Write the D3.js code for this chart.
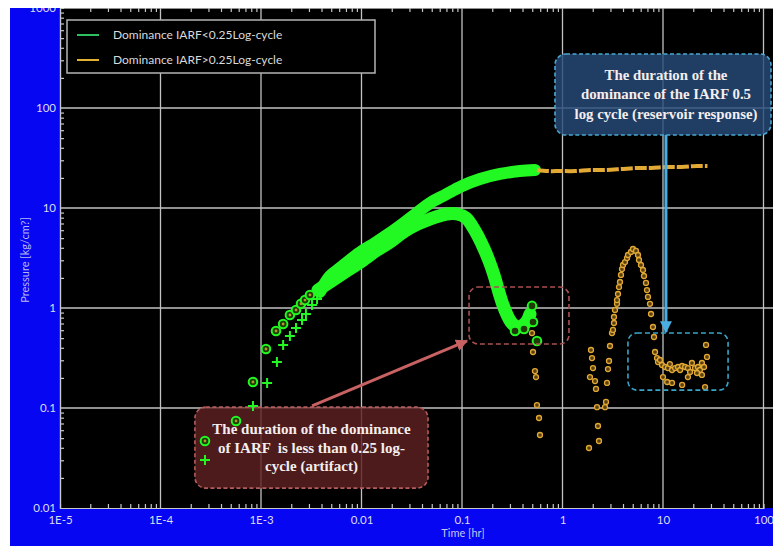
<!DOCTYPE html>
<html>
<head>
<meta charset="utf-8">
<script src="https://cdn.jsdelivr.net/npm/d3@7"></script>
<style>
  html, body { margin: 0; padding: 0; background: #fff; }
  svg { display: block; }
</style>
</head>
<body>
<svg id="chart" width="773" height="546"></svg>
<script>
// decade ticks
var xTicks = [1e-5, 1e-4, 1e-3, 0.01, 0.1, 1, 10, 100];
var xTickLabels = ["1E-5", "1E-4", "1E-3", "0.01", "0.1", "1", "10", "100"];
var yTicks = [0.01, 0.1, 1, 10, 100, 1000];
var yTickLabels = ["0.01", "0.1", "1", "10", "100", "1000"];

var seriesNames = ["Dominance IARF<0.25Log-cycle", "Dominance IARF>0.25Log-cycle"];

// [time hr, pressure kg/cm2]
// green pressure (+ markers), sparse early part
var pressEarly = [[2.77e-4,0.0302],[8.32e-4,0.105],[1.15e-3,0.178],[1.44e-3,0.288],[1.66e-3,0.427],
  [1.94e-3,0.525],[2.23e-3,0.631],[2.56e-3,0.759],[2.80e-3,0.871],[3.22e-3,1.07],[3.61e-3,1.23]];
// green pressure, dense part (markers overlap into a band)
var pressBand = [[3.86e-3,1.445],[4.86e-3,2.09],[6.11e-3,2.51],[7.68e-3,3.02],[1.01e-2,3.72],[1.36e-2,4.47],
  [1.92e-2,5.62],[2.71e-2,7.24],[3.65e-2,9.12],[4.80e-2,11.2],[6.77e-2,13.5],[0.100,16.6],[0.151,19.5],
  [0.239,21.9],[0.378,23.4],[0.532,24.0]];
// green derivative (circle markers), sparse early part
var derivEarly = [[2.77e-4,0.0468],[5.64e-4,0.0741],[8.32e-4,0.182],[1.12e-3,0.389],[1.41e-3,0.589],
  [1.66e-3,0.692],[1.94e-3,0.851],[2.23e-3,0.955],[2.50e-3,1.10],[2.74e-3,1.20],[3.07e-3,1.35]];
// green derivative, dense part
var derivBand = [[3.69e-3,1.51],[4.86e-3,1.82],[6.85e-3,2.29],[1.01e-2,2.95],[1.39e-2,3.72],[1.92e-2,4.57],
  [2.71e-2,5.89],[3.65e-2,6.92],[4.80e-2,7.76],[7.09e-2,8.71],[8.92e-2,8.71],[0.110,7.94],[0.126,6.61],
  [0.144,5.25],[0.166,3.89],[0.186,2.95],[0.208,2.14],[0.228,1.55],[0.256,1.07],[0.281,0.851],
  [0.307,0.724],[0.337,0.661],[0.369,0.646],[0.405,0.676],[0.443,0.741],[0.475,0.871]];
// green derivative, last separate circles
var derivLast = [[0.497,1.05],[0.509,0.724],[0.337,0.589],[0.414,0.617],[0.557,0.468]];

// orange pressure (after IARF)
var orangePress = [[0.557,24.0],[0.72,23.4],[0.95,23.4],[1.34,23.4],[1.90,24.0],[2.69,24.0],[3.81,24.5],
  [5.39,25.1],[7.63,25.1],[10.8,25.7],[15.3,25.7],[21.6,26.3],[27.7,26.3]];
// orange derivative
var orangeDeriv = [[0.497,0.562],[0.509,0.363],[0.532,0.234],[0.545,0.204],[0.557,0.107],[0.584,0.0794],
  [0.597,0.0537],
  [1.835,0.0398],[2.307,0.0468],[2.255,0.0661],[2.204,0.102],[2.648,0.102],[2.709,0.115],[2.154,0.155],
  [2.106,0.186],[1.877,0.204],[2.011,0.251],[1.966,0.316],[1.921,0.380],[2.772,0.178],[2.836,0.245],
  [2.902,0.295],[2.969,0.417],[3.108,0.562],[3.180,0.603],[3.253,0.708],[3.253,0.813],[3.329,0.955],
  [3.485,1.10],[3.485,1.20],[3.566,1.38],[3.649,1.62],[3.733,1.82],[3.820,2.14],[3.908,2.45],[4.000,2.69],
  [4.187,2.88],[4.383,3.16],[4.485,3.39],[4.804,3.63],[5.029,3.89],[5.387,3.72],[5.639,3.39],[5.770,3.02],
  [6.040,2.69],[6.323,2.40],[6.469,2.09],[6.772,1.78],[6.929,1.51],[7.089,1.29],[7.42,1.10],[7.60,0.871],
  [7.95,0.646],[8.14,0.513],[8.33,0.363],[8.72,0.316],[8.92,0.288],[9.33,0.302],[9.77,0.269],[10.5,0.257],
  [11.2,0.251],[11.7,0.275],[12.3,0.240],[13.2,0.251],[14.1,0.257],[14.8,0.240],[15.5,0.263],[16.6,0.257],
  [17.7,0.251],[18.6,0.229],[19.4,0.282],[20.8,0.251],[22.3,0.257],[23.3,0.240],[24.4,0.282],[25.6,0.257],
  [27.4,0.324],[26.8,0.427],[26.2,0.162],[10.0,0.204],[11.0,0.182],[12.3,0.178],[15.5,0.170],[17.7,0.204],
  [21.8,0.224],[24.4,0.214]];

var GREEN = "#22f822", ORANGE = "#e2a935";

var svg = d3.select("#chart");
var W = 773, H = 546;
var x = d3.scaleLog().domain([1e-5, 100]).range([60, 763.5]);
var y = d3.scaleLog().domain([0.01, 1000]).range([508, 8]);

// background
svg.append("rect").attr("x", 10).attr("y", 0).attr("width", W - 10).attr("height", H).attr("fill", "#0606f3");
svg.append("rect").attr("x", 60).attr("y", 8).attr("width", W - 60).attr("height", 500).attr("fill", "#000");

// minor tick values (2..9 per decade)
var minorX = [], minorY = [];
xTicks.slice(0, -1).forEach(function(d) { for (var k = 2; k < 10; k++) minorX.push(d * k); });
yTicks.slice(0, -1).forEach(function(d) { for (var k = 2; k < 10; k++) minorY.push(d * k); });

// gridlines
var grid = svg.append("g").attr("stroke", "#c2c2c2").attr("stroke-width", 1.3);
grid.selectAll(".gx").data(xTicks.slice(1)).enter().append("line")
  .attr("x1", function(d) { return x(d); }).attr("x2", function(d) { return x(d); })
  .attr("y1", 8).attr("y2", 508);
grid.selectAll(".gy").data(yTicks.slice(1)).enter().append("line")
  .attr("y1", function(d) { return y(d); }).attr("y2", function(d) { return y(d); })
  .attr("x1", 60).attr("x2", W);

// minor ticks (inside)
function styleAxis(g) {
  g.selectAll("path, line").attr("stroke", "#c8c8c8").attr("stroke-width", 1.2);
  g.selectAll("text").remove();
}
svg.append("g").attr("transform", "translate(0,508)")
  .call(d3.axisTop(x).tickValues(minorX).tickSize(4).tickFormat("")).call(styleAxis);
svg.append("g").attr("transform", "translate(0,8)")
  .call(d3.axisBottom(x).tickValues(minorX).tickSize(4).tickFormat("")).call(styleAxis)
  .select(".domain").remove();
svg.append("g").attr("transform", "translate(60,0)")
  .call(d3.axisRight(y).tickValues(minorY).tickSize(4).tickFormat("")).call(styleAxis);

// annotation helpers in data coordinates
function box(t0, t1, p0, p1) {
  return { x: x(t0), y: y(p1), w: x(t1) - x(t0), h: y(p0) - y(p1) };
}
var redText = box(2.2e-4, 0.0459, 0.0158, 0.102);
var blueText = box(0.842, 118.7, 53.7, 347);
var redFrame = box(0.1175, 1.16, 0.437, 1.62);
var blueFrame = box(4.48, 44.4, 0.151, 0.562);

// callout boxes (semi transparent, under the markers)
function callout(b, fill, stroke) {
  svg.append("rect").attr("x", b.x).attr("y", b.y).attr("width", b.w).attr("height", b.h)
    .attr("rx", 11).attr("fill", fill).attr("fill-opacity", 0.82)
    .attr("stroke", stroke).attr("stroke-width", 1.6).attr("stroke-dasharray", "4,2.5");
}
callout(redText, "#5e2121", "#b45c5c");
callout(blueText, "#274b7a", "#4aa6cf");

// green bands
var line = d3.line().x(function(d) { return x(d[0]); }).y(function(d) { return y(d[1]); })
  .curve(d3.curveCatmullRom);
svg.append("path").attr("d", line(derivBand)).attr("fill", "none").attr("stroke", GREEN)
  .attr("stroke-width", 13).attr("stroke-linecap", "round").attr("stroke-linejoin", "round");
svg.append("path").attr("d", line(pressBand)).attr("fill", "none").attr("stroke", GREEN)
  .attr("stroke-width", 12).attr("stroke-linecap", "round").attr("stroke-linejoin", "round");

// orange pressure: dense markers drawn as a thick broken line
svg.append("path").attr("d", line(orangePress)).attr("fill", "none").attr("stroke", ORANGE)
  .attr("stroke-width", 4).attr("stroke-dasharray", "12,2");

// orange derivative rings
svg.append("g").selectAll("circle").data(orangeDeriv).enter().append("circle")
  .attr("cx", function(d) { return x(d[0]); }).attr("cy", function(d) { return y(d[1]); })
  .attr("r", 2.5).attr("fill", "#5a4010").attr("stroke", ORANGE).attr("stroke-width", 1.3);

// green circles (derivative)
var gc = svg.append("g");
gc.selectAll("circle.o").data(derivEarly.concat(derivLast)).enter().append("circle")
  .attr("cx", function(d) { return x(d[0]); }).attr("cy", function(d) { return y(d[1]); })
  .attr("r", 4.3).attr("fill", "#1f3a06").attr("stroke", GREEN).attr("stroke-width", 2);
gc.selectAll("circle.i").data(derivEarly).enter().append("circle")
  .attr("cx", function(d) { return x(d[0]); }).attr("cy", function(d) { return y(d[1]); })
  .attr("r", 1.4).attr("fill", "#b09a2a");

// green plus markers (pressure)
svg.append("g").selectAll("path").data(pressEarly).enter().append("path")
  .attr("d", function(d) {
    var cx = x(d[0]), cy = y(d[1]), s = 5;
    return "M" + (cx - s) + "," + cy + "H" + (cx + s) + "M" + cx + "," + (cy - s) + "V" + (cy + s);
  })
  .attr("stroke", GREEN).attr("stroke-width", 2);

// dashed frames around the two flat parts
function frame(b, stroke) {
  svg.append("rect").attr("x", b.x).attr("y", b.y).attr("width", b.w).attr("height", b.h)
    .attr("rx", 9).attr("fill", "none").attr("stroke", stroke)
    .attr("stroke-width", 1.6).attr("stroke-dasharray", "5,3");
}
frame(redFrame, "#a8504f");
frame(blueFrame, "#3aa4c8");

// arrows
var defs = svg.append("defs");
function marker(id, color) {
  defs.append("marker").attr("id", id).attr("viewBox", "0 0 10 10").attr("refX", 9).attr("refY", 5)
    .attr("markerWidth", 4).attr("markerHeight", 4).attr("orient", "auto")
    .append("path").attr("d", "M0,0L10,5L0,10Z").attr("fill", color);
}
marker("ahRed", "#c86262");
marker("ahBlue", "#4aaee0");
svg.append("line").attr("x1", x(3.22e-3)).attr("y1", y(0.105)).attr("x2", x(0.112)).attr("y2", y(0.468))
  .attr("stroke", "#c86262").attr("stroke-width", 3).attr("marker-end", "url(#ahRed)");
svg.append("line").attr("x1", x(10.7)).attr("y1", y(53.7)).attr("x2", x(10.7)).attr("y2", y(0.575))
  .attr("stroke", "#4aaee0").attr("stroke-width", 3).attr("marker-end", "url(#ahBlue)");

// callout texts
function calloutText(b, lines, size, gap, dx) {
  var cx = b.x + b.w / 2 + dx, cy = b.y + b.h / 2;
  var t = svg.append("text").attr("text-anchor", "middle").attr("fill", "#f4eeee")
    .style("font-family", "'Liberation Serif', 'Times New Roman', serif").style("font-weight", "bold")
    .style("font-size", size + "px").style("white-space", "pre");
  lines.forEach(function(s, i) {
    t.append("tspan").attr("x", cx).attr("y", cy + (i - (lines.length - 1) / 2) * gap + size * 0.33).text(s);
  });
}
calloutText(redText, ["The duration of the dominance", "of IARF  is less than 0.25 log-", "cycle (artifact)"], 15, 18.5, 0);
calloutText(blueText, ["The duration of the", "dominance of the IARF 0.5", "log cycle (reservoir response)"], 14.8, 19.5, 3);

// axes labels
var font = "Lato, 'Open Sans', sans-serif";
svg.append("g").attr("transform", "translate(60,0)")
  .call(d3.axisLeft(y).tickValues(yTicks).tickSize(0).tickPadding(4)
    .tickFormat(function(d, i) { return yTickLabels[i]; }))
  .call(function(g) {
    g.select(".domain").attr("stroke", "#c8c8c8").attr("stroke-width", 1.2);
    g.selectAll("text").attr("fill", "#dcdcea").style("font-family", font).style("font-size", "11.5px");
  });
svg.append("g").attr("transform", "translate(0,508)")
  .call(d3.axisBottom(x).tickValues(xTicks).tickSize(0).tickPadding(8)
    .tickFormat(function(d, i) { return xTickLabels[i]; }))
  .call(function(g) {
    g.select(".domain").attr("stroke", "#c8c8c8").attr("stroke-width", 1.2);
    g.selectAll("text").attr("fill", "#dcdcea").style("font-family", font).style("font-size", "11.5px");
  });

svg.append("text").attr("x", 463).attr("y", 537).attr("text-anchor", "middle")
  .attr("fill", "#c4c4f2").style("font-family", font).style("font-size", "11px").text("Time [hr]");
svg.append("text").attr("transform", "translate(29,260) rotate(-90)").attr("text-anchor", "middle")
  .attr("fill", "#b8b8f0").style("font-family", font).style("font-size", "11px").text("Pressure [kg/cm?]");

// legend
var leg = svg.append("g");
leg.append("rect").attr("x", 67).attr("y", 20).attr("width", 308).attr("height", 53)
  .attr("fill", "#000").attr("stroke", "#b4b4b4").attr("stroke-width", 1.5);
var legColors = ["#2fbf5f", "#e2b233"];
seriesNames.forEach(function(name, i) {
  var ly = 35 + i * 25;
  leg.append("line").attr("x1", 77).attr("x2", 99).attr("y1", ly).attr("y2", ly)
    .attr("stroke", legColors[i]).attr("stroke-width", 2);
  leg.append("text").attr("x", 113).attr("y", ly + 4).attr("fill", "#dadada")
    .style("font-family", font).style("font-size", "12px").text(name);
});

// white screenshot margins
svg.append("rect").attr("x", 0).attr("y", 0).attr("width", W).attr("height", 8).attr("fill", "#fff");
svg.append("rect").attr("x", 0).attr("y", 0).attr("width", 10).attr("height", H).attr("fill", "#fff");
</script>
</body>
</html>
